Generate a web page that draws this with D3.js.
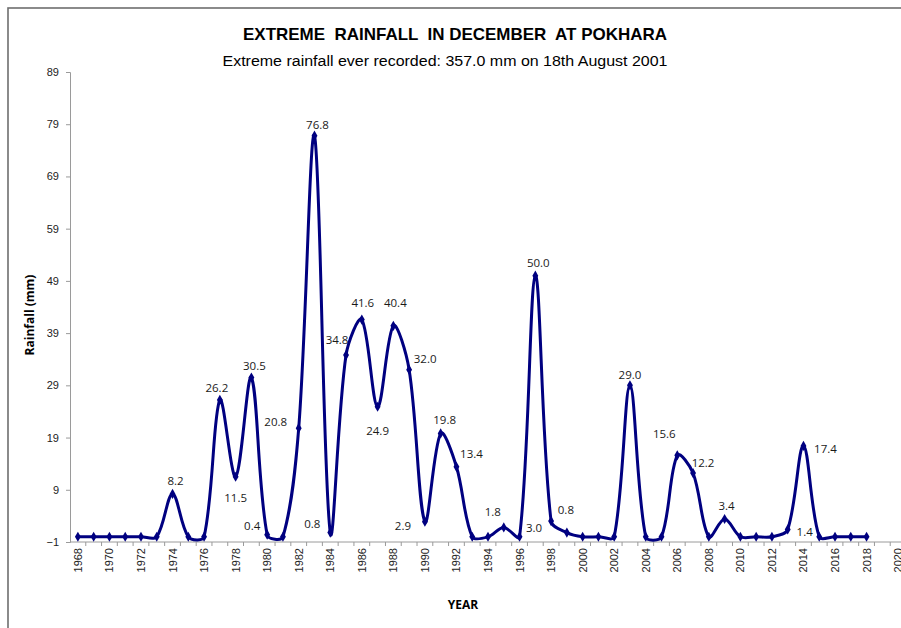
<!DOCTYPE html>
<html>
<head>
<meta charset="utf-8">
<script src="https://cdn.jsdelivr.net/npm/d3@7"></script>
<style>
  html, body { margin: 0; padding: 0; background: #fff; }
  svg { display: block; }
</style>
</head>
<body>
<svg id="chart" width="901" height="628"></svg>
<script>
// ---------- DATA ----------
const years = [1968,1969,1970,1971,1972,1973,1974,1975,1976,1977,1978,1979,1980,1981,1982,1983,1984,1985,1986,1987,1988,1989,1990,1991,1992,1993,1994,1995,1996,1997,1998,1999,2000,2001,2002,2003,2004,2005,2006,2007,2008,2009,2010,2011,2012,2013,2014,2015,2016,2017,2018];
const rainfall = [0,0,0,0,0,0,8.2,0,0,26.2,11.5,30.5,0.4,0,20.8,76.8,0.8,34.8,41.6,24.9,40.4,32.0,2.9,19.8,13.4,0,0,1.8,0,50.0,3.0,0.8,0,0,0,29.0,0,0,15.6,12.2,0,3.4,0,0,0,1.4,17.4,0,0,0,0];
const axisYears = d3.range(1968, 2021);          // category axis 1968..2020
const xTickLabels = d3.range(1968, 2021, 2);     // labelled every 2 years
const yTickValues = [-1, 9, 19, 29, 39, 49, 59, 69, 79, 89];
const titleText = "EXTREME  RAINFALL  IN DECEMBER  AT POKHARA";
const subtitleText = "Extreme rainfall ever recorded: 357.0 mm on 18th August 2001";
const yAxisTitle = "Rainfall (mm)";
const xAxisTitle = "YEAR";

// label placement (offset of label centre from its point), drawing only
const labelOffset = {
  1974:[3,-13], 1977:[-3,-12], 1978:[0,21], 1979:[3,-12], 1980:[-15,-9],
  1982:[-23,-6], 1983:[3,-11], 1984:[-18,-9], 1985:[-9,-15], 1986:[1,-17],
  1987:[0,24], 1988:[2,-23], 1989:[16,-11], 1990:[-22,4], 1991:[4,-13],
  1992:[15,-13], 1995:[-11,-15], 1997:[3,-13], 1998:[-17,7], 1999:[-1,-23],
  2003:[0,-10], 2006:[-13,-21], 2007:[10,-10], 2009:[2,-13], 2013:[17,3],
  2014:[22,3]
};

// ---------- spreadsheet-style smoothed curve (used through d3.line) ----------
function SmoothCurve(context) { this._context = context; }
SmoothCurve.prototype = {
  areaStart() { this._line = 0; },
  areaEnd() { this._line = NaN; },
  lineStart() { this._pts = []; },
  point(x, y) { this._pts.push([+x, +y]); },
  lineEnd() {
    const p = this._pts, c = this._context, n = p.length;
    if (!n) return;
    c.moveTo(p[0][0], p[0][1]);
    const dist = (a, b) => Math.hypot(a[0] - b[0], a[1] - b[1]);
    for (let i = 0; i < n - 1; i++) {
      const p0 = p[Math.max(i - 1, 0)], p1 = p[i], p2 = p[i + 1], p3 = p[Math.min(i + 2, n - 1)];
      const d01 = dist(p0, p1), d12 = dist(p1, p2), d23 = dist(p2, p3);
      const k1 = (d01 + d12) > 0 ? d12 / (d01 + d12) / 3 * (i === 0 ? 1 : 1) : 0;
      const k2 = (d12 + d23) > 0 ? d12 / (d12 + d23) / 3 : 0;
      const c1 = [p1[0] + (p2[0] - p0[0]) * k1, p1[1] + (p2[1] - p0[1]) * k1];
      const c2 = [p2[0] - (p3[0] - p1[0]) * k2, p2[1] - (p3[1] - p1[1]) * k2];
      c.bezierCurveTo(c1[0], c1[1], c2[0], c2[1], p2[0], p2[1]);
    }
  }
};
const curveSmooth = ctx => new SmoothCurve(ctx);

// ---------- DRAW ----------
const svg = d3.select("#chart");
const plot = {left: 70, right: 906, top: 72, bottom: 542};

svg.append("rect")
  .attr("x", 8).attr("y", 8).attr("width", 920).attr("height", 660)
  .attr("fill", "none").attr("stroke", "#6e6e6e").attr("stroke-width", 1.6);

const x = d3.scaleBand().domain(axisYears).range([plot.left, plot.right]).paddingInner(0).paddingOuter(0);
const y = d3.scaleLinear().domain([-1, 89]).range([plot.bottom, plot.top]);
const cx = yr => x(yr) + x.bandwidth() / 2;

const axisColor = "#9a9a9a";

// Y axis
const yAxis = svg.append("g")
  .attr("transform", `translate(${plot.left},0)`)
  .call(d3.axisLeft(y).tickValues(yTickValues).tickSize(4).tickPadding(7).tickFormat(d3.format("d")));
yAxis.select(".domain").attr("stroke", axisColor).attr("stroke-width", 1);
yAxis.selectAll(".tick line").attr("stroke", axisColor);
yAxis.selectAll(".tick text")
  .attr("font-family", "Liberation Sans, Arial, sans-serif")
  .attr("font-size", 11).attr("fill", "#222");

// X axis
const xg = svg.append("g");
xg.append("line")
  .attr("x1", plot.left).attr("x2", plot.right)
  .attr("y1", plot.bottom).attr("y2", plot.bottom)
  .attr("stroke", axisColor).attr("stroke-width", 1);
xg.selectAll("line.tk").data(axisYears).join("line")
  .attr("class", "tk")
  .attr("x1", d => x(d) + x.bandwidth()).attr("x2", d => x(d) + x.bandwidth())
  .attr("y1", plot.bottom).attr("y2", plot.bottom + 4)
  .attr("stroke", axisColor);
xg.selectAll("text").data(xTickLabels).join("text")
  .attr("transform", d => `translate(${cx(d) + 4},${plot.bottom + 6}) rotate(-90)`)
  .attr("text-anchor", "end")
  .attr("font-family", "Liberation Sans, Arial, sans-serif")
  .attr("font-size", 11).attr("fill", "#222")
  .text(d => d);

// Line
const pts = years.map((yr, i) => ({yr, v: rainfall[i]}));
const line = d3.line()
  .x(d => cx(d.yr)).y(d => y(d.v))
  .curve(curveSmooth);
svg.append("path")
  .datum(pts)
  .attr("d", line)
  .attr("fill", "none")
  .attr("stroke", "#000080")
  .attr("stroke-width", 3)
  .attr("stroke-linejoin", "round");

// markers
svg.selectAll("path.mk").data(pts).join("path")
  .attr("class", "mk")
  .attr("transform", d => `translate(${cx(d.yr)},${y(d.v)})`)
  .attr("d", d3.symbol(d3.symbolDiamond, 30))
  .attr("fill", "#000080");

// data labels
svg.selectAll("text.lbl").data(pts.filter(d => d.v > 0)).join("text")
  .attr("class", "lbl")
  .attr("x", d => cx(d.yr) + (labelOffset[d.yr] ? labelOffset[d.yr][0] : 0))
  .attr("y", d => y(d.v) + (labelOffset[d.yr] ? labelOffset[d.yr][1] : -13))
  .attr("dy", "0.35em")
  .attr("text-anchor", "middle")
  .attr("font-family", "Open Sans, sans-serif")
  .attr("font-size", 11.5).attr("fill", "#1a1a1a")
  .text(d => d3.format(".1f")(d.v));

// Titles
svg.append("text")
  .attr("x", 455).attr("y", 40)
  .attr("text-anchor", "middle")
  .attr("font-family", "Liberation Sans, Arial, sans-serif")
  .attr("font-weight", "bold").attr("font-size", 17)
  .attr("textLength", 424).attr("lengthAdjust", "spacingAndGlyphs")
  .attr("xml:space", "preserve").style("white-space", "pre")
  .text(titleText);
svg.append("text")
  .attr("x", 445).attr("y", 66)
  .attr("text-anchor", "middle")
  .attr("font-family", "Liberation Sans, Arial, sans-serif")
  .attr("font-size", 15.5)
  .attr("textLength", 445).attr("lengthAdjust", "spacingAndGlyphs")
  .text(subtitleText);

svg.append("text")
  .attr("transform", `translate(34,315) rotate(-90)`)
  .attr("text-anchor", "middle")
  .attr("font-family", "Open Sans, sans-serif")
  .attr("font-weight", "bold").attr("font-size", 12)
  .text(yAxisTitle);
svg.append("text")
  .attr("x", 463).attr("y", 609)
  .attr("text-anchor", "middle")
  .attr("font-family", "Open Sans, sans-serif")
  .attr("font-weight", "bold").attr("font-size", 12)
  .text(xAxisTitle);
</script>
</body>
</html>
